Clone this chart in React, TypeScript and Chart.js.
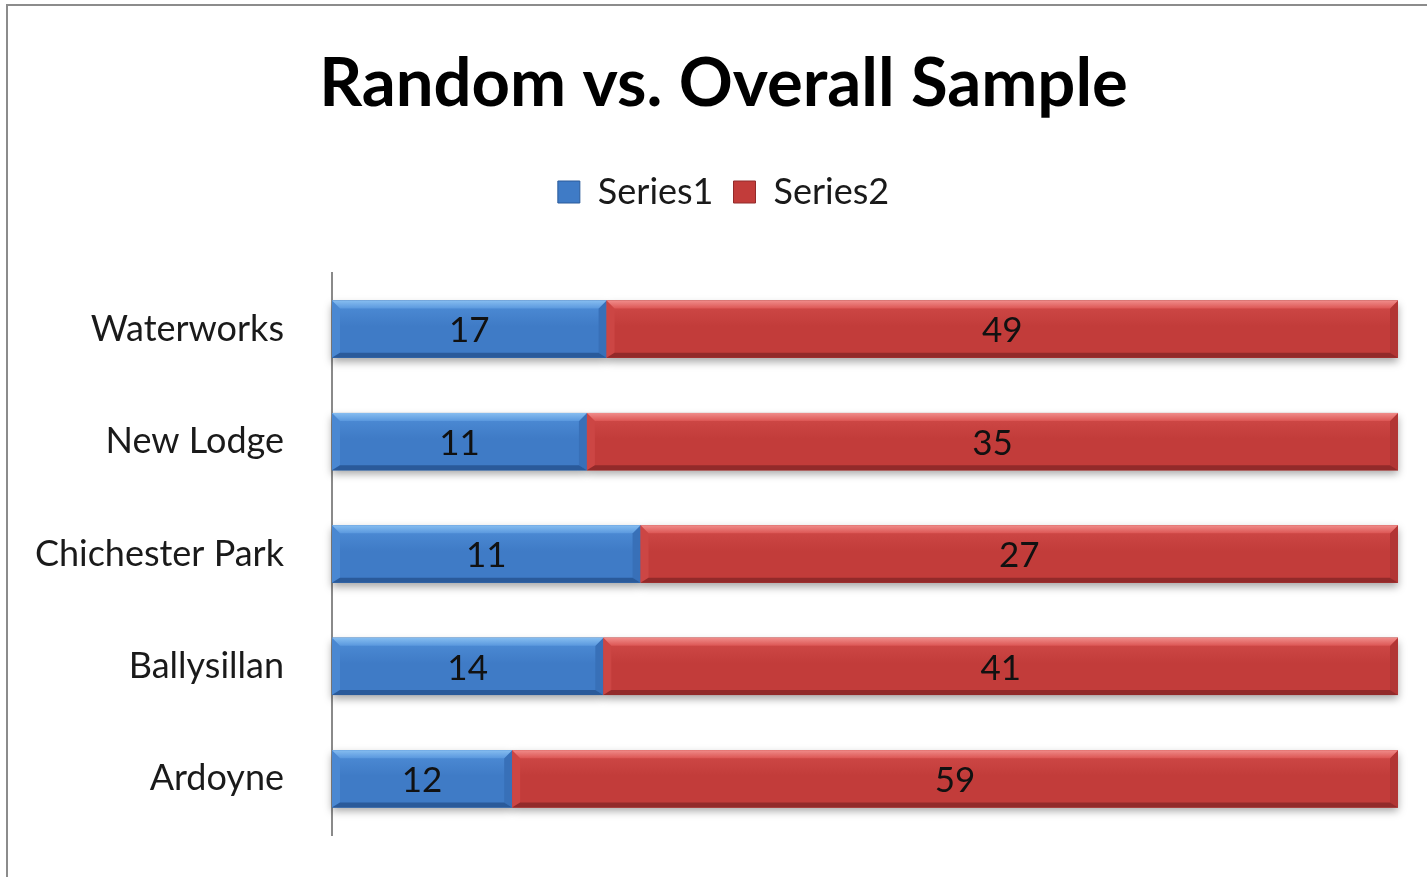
import React, { useEffect, useRef } from "react";
import { Chart, registerables } from "chart.js";

Chart.register(...registerables);

const categories = ["Waterworks", "New Lodge", "Chichester Park", "Ballysillan", "Ardoyne"];
const series1 = [17, 11, 11, 14, 12];
const series2 = [49, 35, 27, 41, 59];
const seriesNames = ["Series1", "Series2"];

const FONT = "Lato, 'Open Sans', sans-serif";

const share = (a: number[], b: number[]) => a.map((v, i) => (v / (v + b[i])) * 100);

const palettes = [
  { top: "#86bdf0", topIn: "#5a98de", left: "#4a88d2", body: "#3f7bc6", right: "#3870b8", bottom: "#2a5a9a" },
  { top: "#f08c8a", topIn: "#dc5654", left: "#cc4644", body: "#c23c3a", right: "#b23534", bottom: "#922a2a" },
];

const bevelPlugin = {
  id: "bevel",
  beforeDatasetsDraw(chart: any) {
    const ctx = chart.ctx;
    chart.data.datasets.forEach((_: any, di: number) => {
      const meta = chart.getDatasetMeta(di);
      meta.data.forEach((el: any) => {
        const left = Math.min(el.base, el.x);
        const right = Math.max(el.base, el.x);
        const top = el.y - el.height / 2;
        ctx.save();
        ctx.shadowColor = "rgba(0,0,0,0.35)";
        ctx.shadowBlur = 8;
        ctx.shadowOffsetY = 4;
        ctx.fillStyle = "#888";
        ctx.fillRect(left, top, right - left, el.height);
        ctx.restore();
      });
    });
  },
  afterDatasetsDraw(chart: any) {
    const ctx = chart.ctx;
    chart.data.datasets.forEach((ds: any, di: number) => {
      const meta = chart.getDatasetMeta(di);
      const p = palettes[di];
      meta.data.forEach((el: any, i: number) => {
        const left = Math.min(el.base, el.x);
        const right = Math.max(el.base, el.x);
        const h = el.height;
        const top = el.y - h / 2;
        const bot = top + h;
        const b = 8;
        const bb = 5;
        const poly = (pts: number[][], fill: any) => {
          ctx.fillStyle = fill;
          ctx.beginPath();
          ctx.moveTo(pts[0][0], pts[0][1]);
          for (let k = 1; k < pts.length; k++) ctx.lineTo(pts[k][0], pts[k][1]);
          ctx.closePath();
          ctx.fill();
        };
        ctx.save();
        const g = ctx.createLinearGradient(0, top + b, 0, bot - bb);
        g.addColorStop(0, p.left);
        g.addColorStop(0.4, p.body);
        g.addColorStop(1, p.body);
        ctx.fillStyle = g;
        ctx.fillRect(left, top, right - left, h);
        poly([[left, top], [left + b, top + b], [left + b, bot - bb], [left, bot]], p.left);
        poly([[right, top], [right - b, top + b], [right - b, bot - bb], [right, bot]], p.right);
        const gt = ctx.createLinearGradient(0, top, 0, top + b);
        gt.addColorStop(0, p.top);
        gt.addColorStop(1, p.topIn);
        poly([[left, top], [right, top], [right - b, top + b], [left + b, top + b]], gt);
        poly([[left, bot], [right, bot], [right - b, bot - bb], [left + b, bot - bb]], p.bottom);
        ctx.restore();
        const raw = ds.rawValues[i];
        ctx.save();
        ctx.font = `35px ${FONT}`;
        ctx.fillStyle = "#111";
        ctx.textAlign = "center";
        ctx.textBaseline = "middle";
        ctx.fillText(String(raw), (left + right) / 2, el.y + 2);
        ctx.restore();
      });
    });
  },
};

export default function App() {
  const ref = useRef<HTMLCanvasElement | null>(null);
  useEffect(() => {
    document.body.style.margin = "0";
    document.body.style.overflow = "hidden";
    const canvas = ref.current!;
    const chart = new Chart(canvas, {
      type: "bar",
      data: {
        labels: categories,
        datasets: [
          {
            label: seriesNames[0],
            data: share(series1, series2),
            rawValues: series1,
            backgroundColor: palettes[0].body,
            borderWidth: 0,
            barPercentage: 0.51,
            categoryPercentage: 1,
          } as any,
          {
            label: seriesNames[1],
            data: share(series2, series1),
            rawValues: series2,
            backgroundColor: palettes[1].body,
            borderWidth: 0,
            barPercentage: 0.51,
            categoryPercentage: 1,
          } as any,
        ],
      },
      options: {
        indexAxis: "y",
        responsive: false,
        animation: false,
        devicePixelRatio: 1,
        layout: { padding: { left: 20, right: 0, top: 0, bottom: 42 } },
        plugins: {
          title: {
            display: true,
            text: "Random vs. Overall Sample",
            color: "#000",
            font: { family: FONT, size: 67, weight: "bold", lineHeight: 1 },
            padding: { top: 51, bottom: 36 },
          },
          legend: {
            display: true,
            position: "top",
            labels: {
              color: "#1a1a1a",
              font: { family: FONT, size: 36, lineHeight: 1 },
              boxWidth: 22,
              boxHeight: 22,
              padding: 20,
              generateLabels: (c: any) =>
                c.data.datasets.map((d: any, i: number) => ({
                  text: d.label,
                  fillStyle: palettes[i].body,
                  strokeStyle: palettes[i].bottom,
                  lineWidth: 1,
                  fontColor: "#1a1a1a",
                  hidden: false,
                  datasetIndex: i,
                })),
            },
          },
          tooltip: { enabled: false },
        },
        scales: {
          x: {
            stacked: true,
            min: 0,
            max: 102.72,
            position: "top",
            ticks: { display: false },
            grid: { display: false, drawTicks: false },
            border: { display: false },
            title: {
              display: true,
              text: " ",
              font: { size: 10, lineHeight: 1 },
              padding: { top: 21, bottom: 22 },
            },
          },
          y: {
            stacked: true,
            grid: { display: false, drawTicks: true, tickLength: 48 },
            border: { display: true, color: "#8a8a8a", width: 2 },
            ticks: {
              color: "#1a1a1a",
              font: { family: FONT, size: 36 },
              padding: 0,
            },
            afterFit: (s: any) => {
              s.width = 312;
            },
          },
        },
      },
      plugins: [bevelPlugin],
    } as any);
    return () => chart.destroy();
  }, []);

  return (
    <div style={{ position: "relative", width: 1427, height: 877, overflow: "hidden", background: "#fff" }}>
      <div
        style={{
          position: "absolute",
          left: 6,
          top: 4,
          width: 1460,
          height: 920,
          border: "2px solid #8c8c8c",
          boxSizing: "border-box",
        }}
      />
      <canvas ref={ref} width={1427} height={877} style={{ position: "absolute", left: 0, top: 0, width: 1427, height: 877 }} />
    </div>
  );
}
